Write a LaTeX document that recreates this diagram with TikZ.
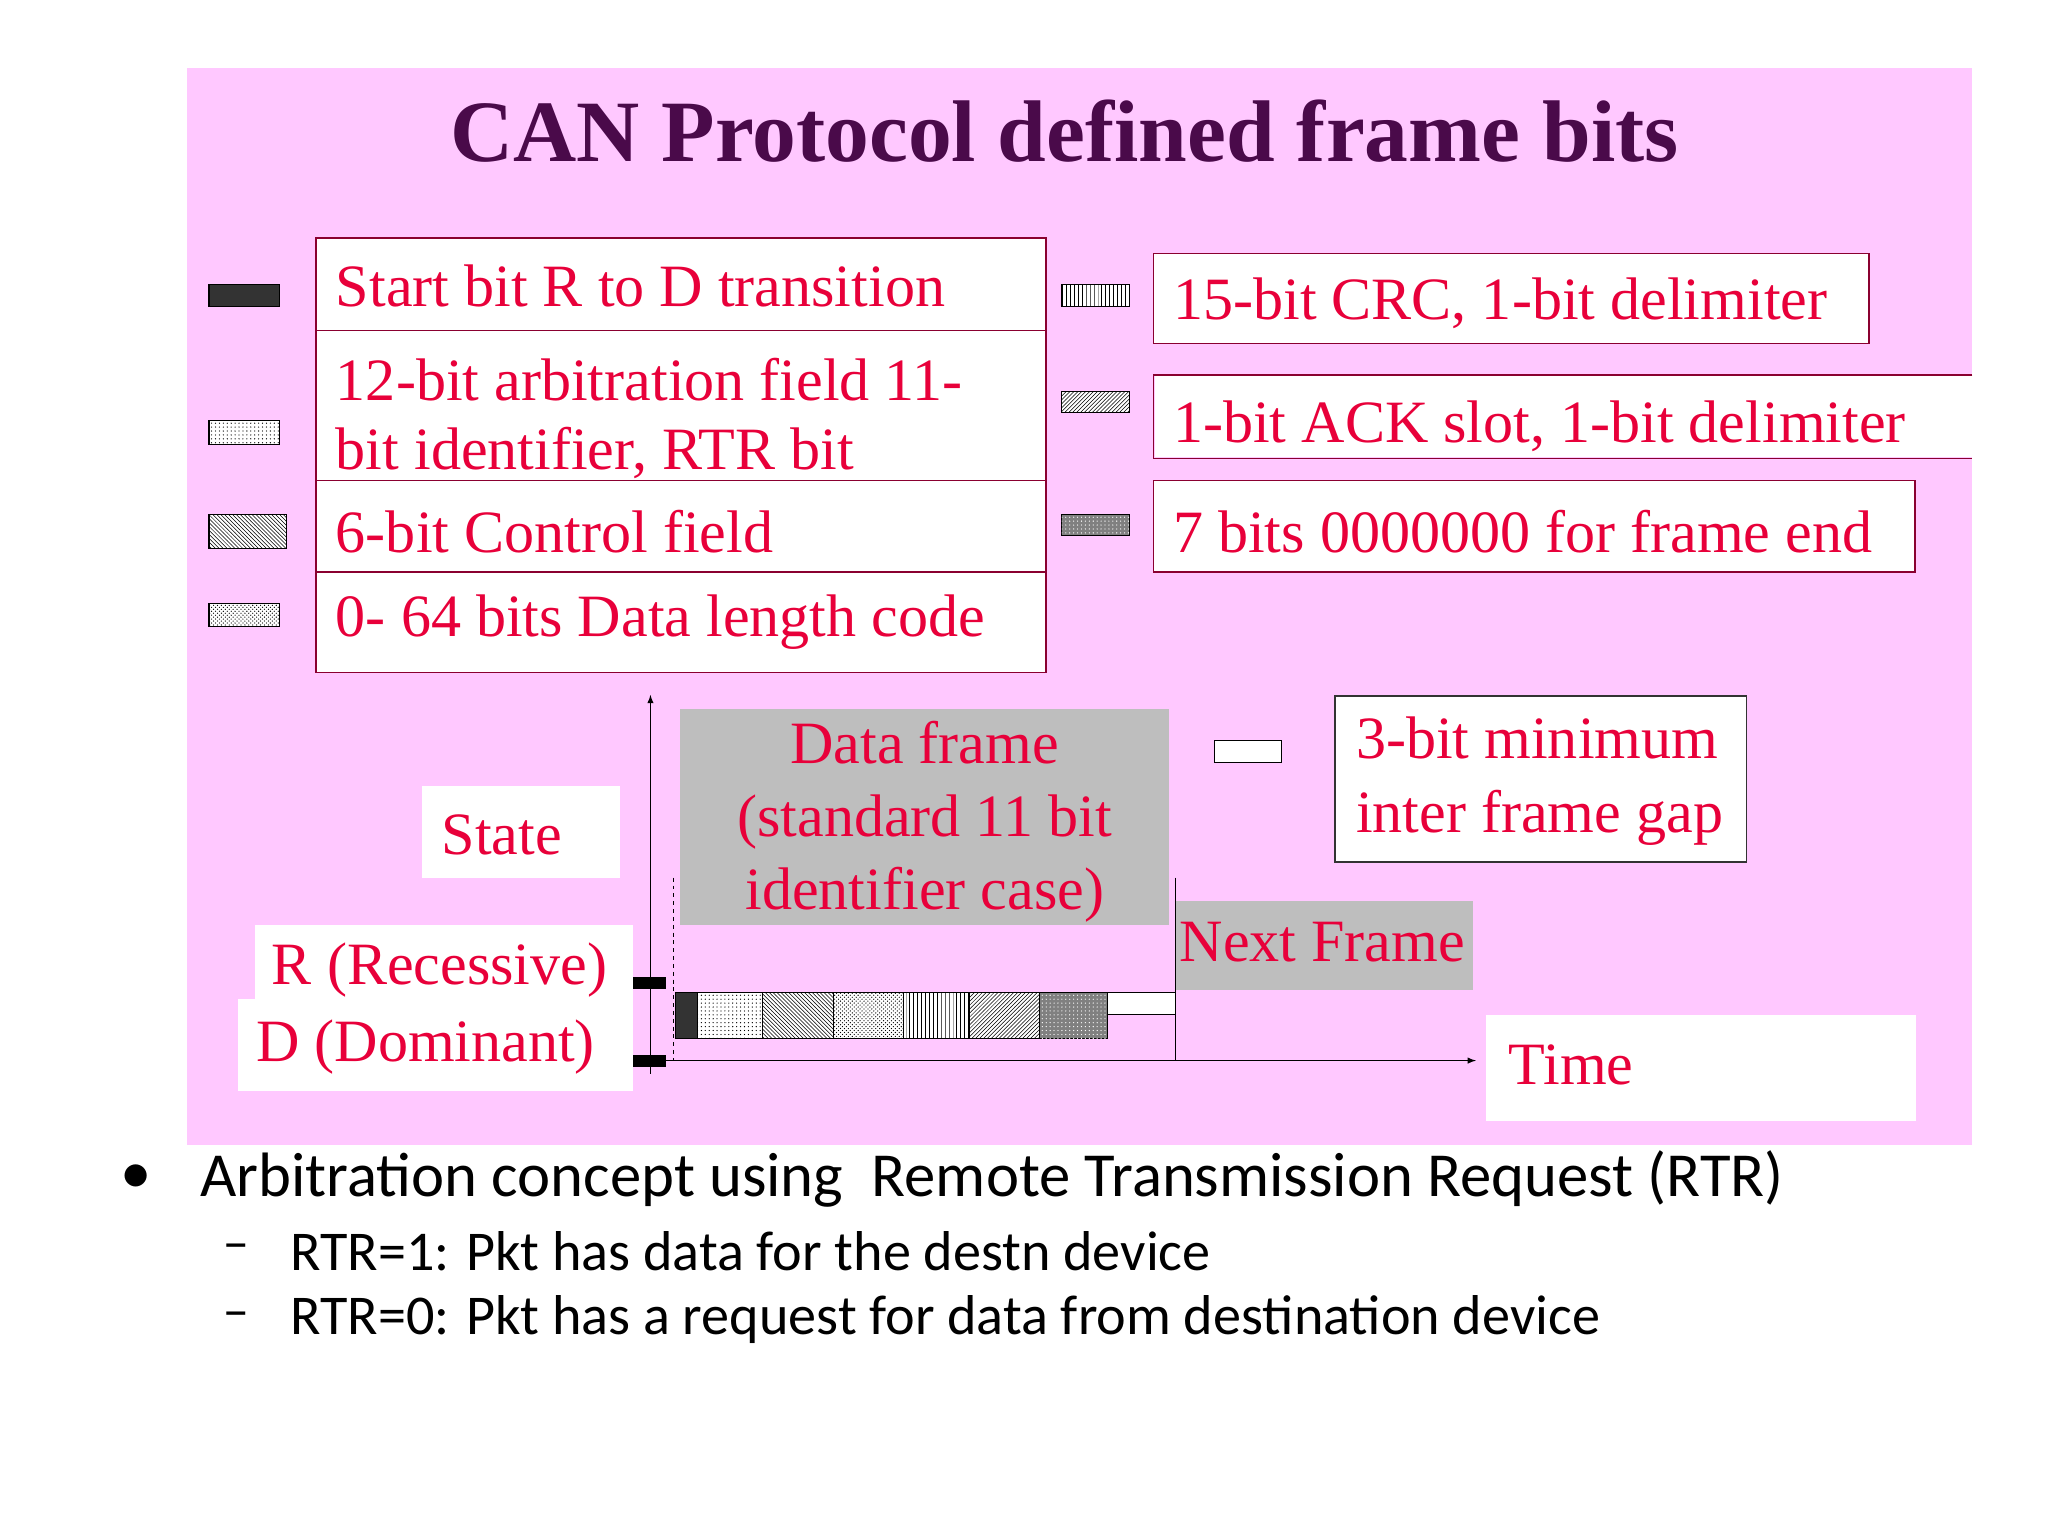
\documentclass[tikz,border=0pt]{standalone}
\usepackage{fontspec}
\setmainfont{Liberation Serif}
\newfontfamily\calib{Carlito}
\newfontfamily\dejav{DejaVu Sans}
\usetikzlibrary{patterns}
\definecolor{pinkbg}{HTML}{FFC8FF}
\definecolor{redtxt}{HTML}{E8003A}
\definecolor{titlec}{HTML}{4A0A4A}
\definecolor{frameline}{HTML}{8A0030}
\definecolor{grayb}{HTML}{BEBEBE}
\tikzset{x=1pt,y=-1pt,
 cell/.style={draw=frameline,line width=1.2pt,fill=white},
 sw/.style={draw=black,line width=0.8pt},
 lbl/.style={text=redtxt,anchor=west,font=\fontsize{46}{52}\selectfont,inner sep=0pt},
 blt/.style={anchor=west,font=\calib\fontsize{48}{52}\selectfont,inner sep=0pt},
 sub/.style={anchor=west,font=\calib\fontsize{43}{48}\selectfont,inner sep=0pt}}
\begin{document}
\begin{tikzpicture}
\useasboundingbox (0,0) rectangle (1568,1176);
\fill[white] (0,0) rectangle (1568,1176);
\fill[pinkbg] (143,52) rectangle (1510,877);
\node[text=titlec,font=\bfseries\fontsize{67}{72}\selectfont] (title) at (815,100) {CAN Protocol defined frame bits};
% left table
\draw[cell] (242,182) rectangle (801,253);
\draw[cell] (242,253) rectangle (801,368);
\draw[cell] (242,368) rectangle (801,438);
\draw[cell] (242,438) rectangle (801,515);
\node[lbl] (t1) at (257,219) {Start bit R to D transition};
\node[lbl] (t2) at (257,291) {12-bit arbitration field 11-};
\node[lbl] (t2b) at (257,347) {bit identifier, RTR bit};
\node[lbl] (t3) at (257,407) {6-bit Control field};
\node[lbl] (t4) at (257,476) {0- 64 bits Data length code};
% left swatches
\draw[sw,fill=black!80] (160,218) rectangle (214,235);
\draw[sw,fill=white] (160,322) rectangle (214,340); \fill[pattern=dots] (160,322) rectangle (214,340);
\draw[sw,fill=white] (160,394) rectangle (219,420); \fill[pattern=north west lines] (160,394) rectangle (219,420);
\draw[sw,fill=white] (160,462) rectangle (214,480); \fill[pattern=crosshatch dots] (160,462) rectangle (214,480);
% right swatches
\draw[sw,fill=white] (813,218) rectangle (865,235); \fill[pattern=vertical lines] (813,218) rectangle (865,235);
\draw[sw,fill=white] (813,300) rectangle (865,316); \fill[pattern=north east lines] (813,300) rectangle (865,316);
\draw[sw,fill=gray] (813,394) rectangle (865,410); \fill[pattern=dots,pattern color=white] (813,394) rectangle (865,410);
% right boxes
\draw[cell] (883,194) rectangle (1431,263);
\fill[white] (884,288) rectangle (1510,350);
\draw[cell,fill=none] (1510,287) -- (883,287) -- (883,351) -- (1510,351);
\draw[cell] (883,368) rectangle (1466,438);
\node[lbl] (r1) at (898,232) {15-bit CRC, 1-bit delimiter};
\node[lbl] (r2) at (898,326) {1-bit ACK slot, 1-bit delimiter};
\node[lbl] (r3) at (898,407) {7 bits 0000000 for frame end};
% timing
\fill[grayb] (521,543) rectangle (895,708);
\node[text=redtxt,align=center,font=\fontsize{46}{56}\selectfont] (df) at (708,629) {Data frame\\(standard 11 bit\\identifier case)};
\fill[grayb] (900,690) rectangle (1128,758);
\node[lbl] (nf) at (903,721) {Next Frame};
\draw[dashed,line width=0.8pt] (516,672) -- (516,812);
\draw[line width=1pt] (900,672) -- (900,812);
\coordinate (o) at (498,812);
\coordinate (ytop) at (498,532);
\coordinate (xend) at (1130,812);
\draw[line width=1.2pt,-latex] (498,822) -- (ytop);
\draw[line width=1.2pt,-latex] (o) -- (xend);
\fill[black] (485,748) rectangle (510,757);
\fill[black] (485,808) rectangle (510,817);
% strip
\draw[sw,fill=black!80] (517,760) rectangle (534,795);
\draw[sw,fill=white] (534,760) rectangle (584,795); \fill[pattern=dots] (534,760) rectangle (584,795);
\draw[sw,fill=white] (584,760) rectangle (638,795); \fill[pattern=north west lines] (584,760) rectangle (638,795);
\draw[sw,fill=white] (638,760) rectangle (692,795); \fill[pattern=crosshatch dots] (638,760) rectangle (692,795);
\draw[sw,fill=white] (692,760) rectangle (742,795); \fill[pattern=vertical lines] (692,760) rectangle (742,795);
\draw[sw,fill=white] (742,760) rectangle (796,795); \fill[pattern=north east lines] (742,760) rectangle (796,795);
\draw[sw,fill=gray] (796,760) rectangle (848,795); \fill[pattern=dots,pattern color=white] (796,760) rectangle (848,795);
\draw[sw,fill=white] (848,760) rectangle (900,777);
\draw[sw,fill=white] (930,567) rectangle (981,584);
\draw[cell,draw=black!80] (1022,533) rectangle (1337,660);
\node[lbl,align=left,font=\fontsize{46}{56}\selectfont] (gap) at (1038,598) {3-bit minimum\\inter frame gap};
\fill[white] (323,602) rectangle (475,672);
\node[lbl] (st) at (338,639) {State};
\fill[white] (195,708) rectangle (485,768);
\fill[white] (182,765) rectangle (485,835);
\node[lbl] (rr) at (208,743) {R (Recessive)};
\node[lbl] (dd) at (196,802) {D (Dominant)};
\fill[white] (1138,777) rectangle (1467,858);
\node[lbl] (tm) at (1155,815) {Time};
% bullets
\node[blt] (b0) at (92,903) {•};
\node[blt] (b1) at (153,903) {Arbitration concept using\ \ Remote Transmission Request (RTR)};
\node[sub,font=\dejav\fontsize{36}{40}\selectfont] (d1) at (172,958) {–};
\node[sub] (s1) at (222,958) {RTR=1: Pkt has data for the destn device};
\node[sub,font=\dejav\fontsize{36}{40}\selectfont] (d2) at (172,1010) {–};
\node[sub] (s2) at (222,1010) {RTR=0: Pkt has a request for data from destination device};
\end{tikzpicture}
\end{document}
